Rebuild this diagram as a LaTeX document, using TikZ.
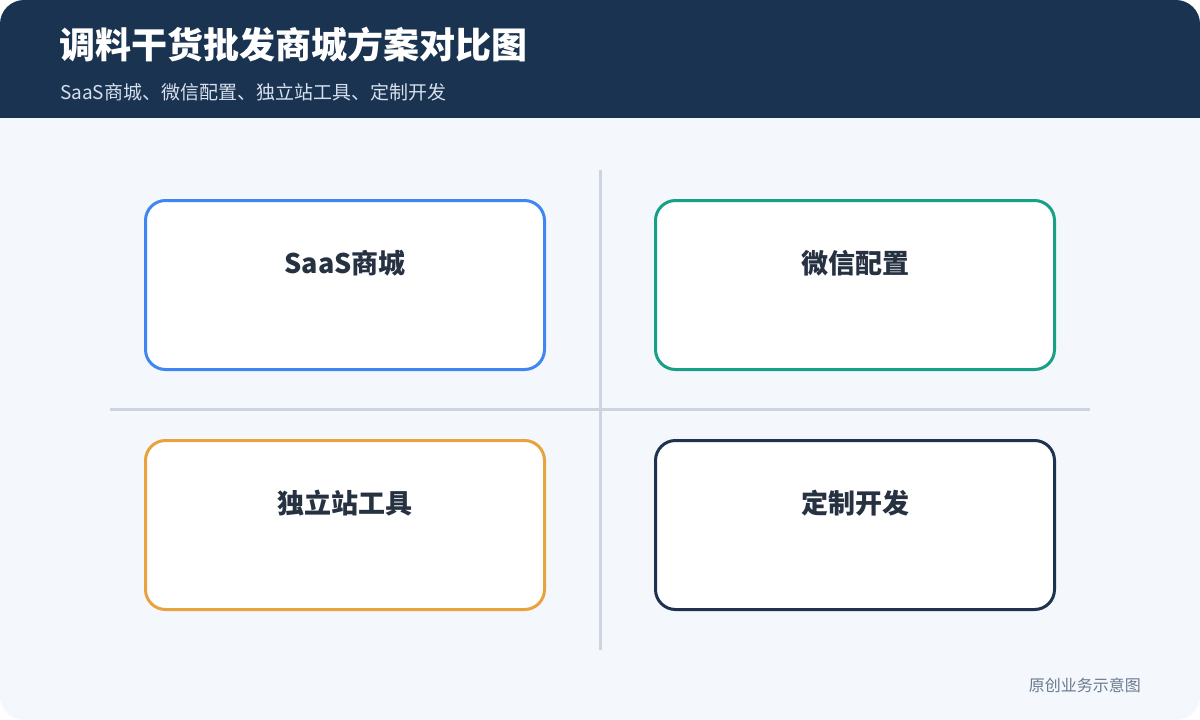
\documentclass[tikz,border=0pt]{standalone}
\usepackage{fontspec}
\setmainfont{Noto Sans CJK SC}
\definecolor{hdr}{HTML}{1A3350}
\definecolor{bgc}{HTML}{F4F7FC}
\definecolor{cblue}{HTML}{3F86F2}
\definecolor{cteal}{HTML}{17A085}
\definecolor{corange}{HTML}{E8A23E}
\definecolor{cnavy}{HTML}{1E3350}
\definecolor{divc}{HTML}{CCD4DF}
\definecolor{labc}{HTML}{263142}
\definecolor{subc}{HTML}{D6E0EE}
\definecolor{footc}{HTML}{6B7A90}
\begin{document}
\begin{tikzpicture}[x=1pt,y=-1pt,
  card/.style={draw, line width=3pt, fill=white, rounded corners=20pt, minimum width=399pt, minimum height=169pt, anchor=north west, inner sep=0pt, outer sep=0pt},
  cardlabel/.style={font=\fontsize{27}{31}\selectfont\bfseries, text=labc, anchor=center},
  divider/.style={draw=divc, line width=3pt}]
\useasboundingbox (0,0) rectangle (1200,720);
\fill[white] (0,0) rectangle (1200,720);
\begin{scope}
\clip[rounded corners=24pt] (0,0) rectangle (1200,720);
\fill[bgc] (0,0) rectangle (1200,720);
\fill[hdr] (0,0) rectangle (1200,118);
\end{scope}
\node[anchor=base west, text=white, font=\fontsize{36}{42}\selectfont\bfseries, inner sep=0pt] (title) at (59,58) {调料干货批发商城方案对比图};
\node[anchor=base west, text=subc, font=\fontsize{19}{23}\selectfont, inner sep=0pt] (sub) at (60,99) {SaaS商城、微信配置、独立站工具、定制开发};
\coordinate (vt) at (600,170);
\coordinate (vb) at (600,650);
\coordinate (hl) at (110,409);
\coordinate (hr) at (1090,409);
\draw[divider] (vt) -- (vb);
\draw[divider] (hl) -- (hr);
\node[card, draw=cblue] (c1) at (145.5,200.5) {};
\node[card, draw=cteal] (c2) at (655.5,200.5) {};
\node[card, draw=corange] (c3) at (145.5,440.5) {};
\node[card, draw=cnavy] (c4) at (655.5,440.5) {};
\node[cardlabel] (l1) at (345,263) {SaaS商城};
\node[cardlabel] (l2) at (855,263) {微信配置};
\node[cardlabel] (l3) at (345,503) {独立站工具};
\node[cardlabel] (l4) at (855,503) {定制开发};
\node[anchor=base east, text=footc, font=\fontsize{16}{19}\selectfont, inner sep=0pt] (foot) at (1141,691) {原创业务示意图};
\end{tikzpicture}
\end{document}
